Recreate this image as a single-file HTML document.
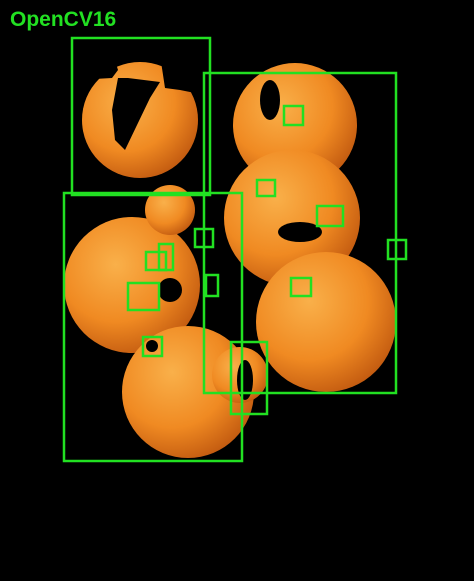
<!DOCTYPE html>
<html><head><meta charset="utf-8"><style>
html,body{margin:0;padding:0;background:#000;width:474px;height:581px;overflow:hidden}
svg{display:block}
</style></head><body>
<svg id="s" width="474" height="581" viewBox="0 0 474 581">
<defs>
<radialGradient id="og" cx="0.38" cy="0.35" r="0.7">
<stop offset="0" stop-color="#f9b04a"/><stop offset="0.6" stop-color="#f08a22"/><stop offset="1" stop-color="#c25a10"/>
</radialGradient>
</defs>
<rect x="0" y="0" width="474" height="581" fill="#000"/>
<g id="oranges"></g>
<g id="holes"></g>
<g fill="#000">
<polygon points="72,38,108,38,118,70,112,78,76,80"/>
<polygon points="118,78,128,78,160,82,150,98,125,150,115,140,112,110"/>
<polygon points="160,55,200,55,205,95,180,90,165,88"/>
<polygon points="72,160,95,175,120,190,72,195"/>
</g>
<g id="boxes"></g>
<text x="10" y="26" font-family="Liberation Sans, sans-serif" font-size="21" font-weight="bold" fill="#22e022">OpenCV16</text>
</svg>
<script>
const orangeCenters = [[140,120,58],[295,125,62],[292,218,68],[132,285,68],[326,322,70],[188,392,66],[240,375,28],[170,210,25]];
const holeShapes = [[270,100,10,20],[300,232,22,10],[170,290,12,12],[390,250,10,14],[152,346,6,6],[245,380,8,20]];
const boxCoords = [[72,38,210,195],[204,73,396,393],[64,193,242,461],[284,106,303,125],[257,180,275,196],[317,206,343,226],[195,229,213,247],[388,240,406,259],[146,252,166,270],[159,244,173,270],[206,275,218,296],[128,283,159,310],[291,278,311,296],[143,337,162,356],[231,342,267,414]];
const NS='http://www.w3.org/2000/svg';
const og=document.getElementById('oranges');
orangeCenters.forEach(function(o){
  const c=document.createElementNS(NS,'circle');
  c.setAttribute('cx',o[0]);c.setAttribute('cy',o[1]);c.setAttribute('r',o[2]);
  c.setAttribute('fill','url(#og)');
  
  
  og.appendChild(c);
});
const hg=document.getElementById('holes');
holeShapes.forEach(function(h){
  const e=document.createElementNS(NS,'ellipse');
  e.setAttribute('cx',h[0]);e.setAttribute('cy',h[1]);e.setAttribute('rx',h[2]);e.setAttribute('ry',h[3]);
  e.setAttribute('fill','#000');
  
  
  hg.appendChild(e);
});
const bg=document.getElementById('boxes');
boxCoords.forEach(function(b){
  const r=document.createElementNS(NS,'rect');
  r.setAttribute('x',b[0]);r.setAttribute('y',b[1]);
  r.setAttribute('width',b[2]-b[0]);r.setAttribute('height',b[3]-b[1]);
  r.setAttribute('fill','none');r.setAttribute('stroke','#22e022');r.setAttribute('stroke-width','2.5');
  
  
  bg.appendChild(r);
});
</script>
</body></html>
